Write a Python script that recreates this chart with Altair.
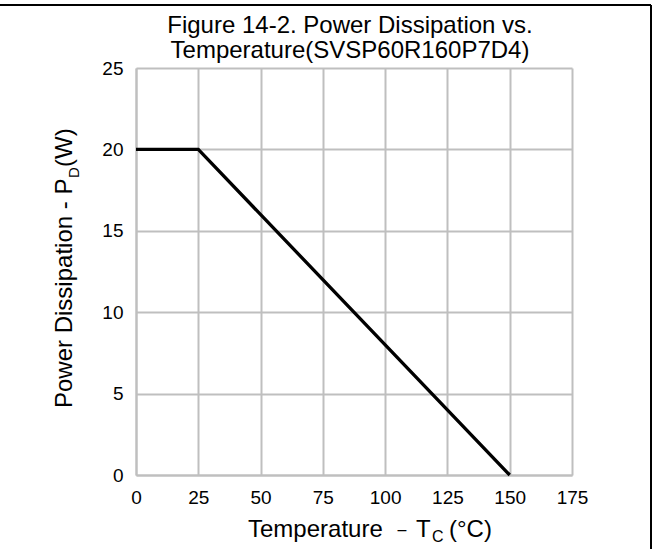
import altair as alt
import pandas as pd

# ---- data ----
temps = [0, 25, 150]
power = [20, 20, 0]
x_ticks = [0, 25, 50, 75, 100, 125, 150, 175]
y_ticks = [0, 5, 10, 15, 20, 25]
title_lines = ["Figure 14-2. Power Dissipation vs.", "Temperature(SVSP60R160P7D4)"]

FONT = "Liberation Sans, Arial, Helvetica, sans-serif"
GRID = "#bfbfbf"

df = pd.DataFrame({"T": temps, "P": power})

W, H = 436, 407
PAD = {"left": 136, "top": 68, "right": 654 - 136 - W, "bottom": 549 - 68 - H}

one = alt.Data(values=[{"k": 1}])


def txt(s, x, y, size, angle=None, align="left", baseline="alphabetic"):
    kw = dict(text=s, font=FONT, fontSize=size, align=align, baseline=baseline, color="black")
    if angle is not None:
        kw["angle"] = angle
    return alt.Chart(one).mark_text(**kw).encode(x=alt.value(x), y=alt.value(y))


line = alt.Chart(df).mark_line(color="black", strokeWidth=3.3).encode(
    x=alt.X("T:Q", scale=alt.Scale(domain=[0, 175], nice=False, zero=False),
            axis=alt.Axis(values=x_ticks, title=None, grid=True, labelPadding=13)),
    y=alt.Y("P:Q", scale=alt.Scale(domain=[0, 25], nice=False),
            axis=alt.Axis(values=y_ticks, title=None, grid=True, labelPadding=13)),
)

# title
t1 = txt(title_lines[0], 214, -35, 24, align="center")
t2 = txt(title_lines[1], 214, -10, 24, align="center")

# x axis title: Temperature – T_C(°C)
xa = txt("Temperature", 112, 469, 24)
xb = txt("\u2013", 266, 467, 16, align="center")
xc = txt("T", 280, 469, 24)
xd = txt("C", 296, 474, 16)
xe = txt("(\u00b0C)", 313, 469, 24)

# y axis title: Power Dissipation - P_D(W)
ya = txt("Power Dissipation - P", -64, 340, 24, angle=270)
yb = txt("D", -57, 110, 15, angle=270)
yc = txt("(W)", -64, 99, 24, angle=270)

# outer frame lines
top_rule = alt.Chart(one).mark_rule(color="black", strokeWidth=2).encode(
    x=alt.value(-136), x2=alt.value(515), y=alt.value(-63))
right_rule = alt.Chart(one).mark_rule(color="black", strokeWidth=2).encode(
    x=alt.value(515), y=alt.value(-63), y2=alt.value(481))

chart = alt.layer(
    line, t1, t2, xa, xb, xc, xd, xe, ya, yb, yc, top_rule, right_rule
).properties(
    width=W, height=H, padding=PAD,
    autosize=alt.AutoSizeParams(type="none"),
).configure_view(stroke=None).configure_axis(
    labelFont=FONT, labelFontSize=19, labelColor="black",
    domainColor=GRID, domainWidth=2, gridColor=GRID, gridWidth=2,
    ticks=False, labelFlush=False,
)

chart.save("out.html", embed_options={"renderer": "svg", "actions": False})
